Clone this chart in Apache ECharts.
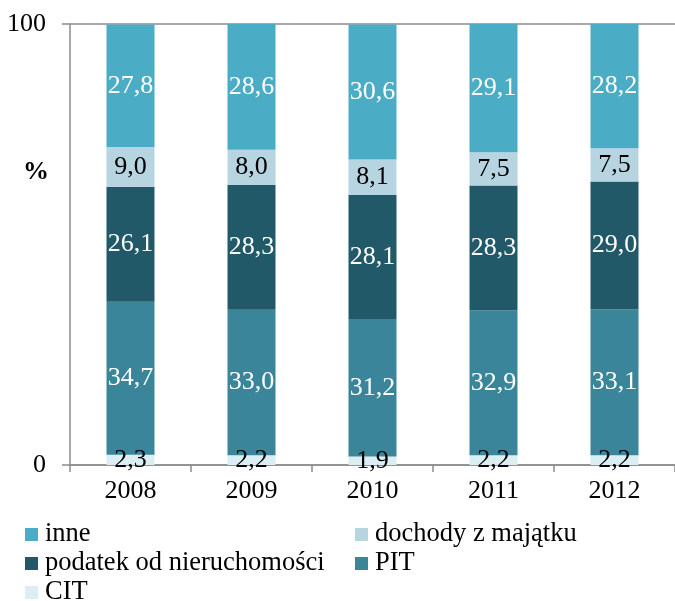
<!DOCTYPE html>
<html>
<head>
<meta charset="utf-8">
<script src="https://cdn.jsdelivr.net/npm/echarts@6/dist/echarts.min.js"></script>
<style>
  html, body { margin: 0; padding: 0; background: #fff; }
  #chart { width: 675px; height: 601px; }
</style>
</head>
<body>
<div id="chart"></div>
<script>
    var years = ['2008', '2009', '2010', '2011', '2012'];
    var cit = [2.3, 2.2, 1.9, 2.2, 2.2];
    var pit = [34.7, 33.0, 31.2, 32.9, 33.1];
    var podatek = [26.1, 28.3, 28.1, 28.3, 29.0];
    var dochody = [9.0, 8.0, 8.1, 7.5, 7.5];
    var inne = [27.8, 28.6, 30.6, 29.1, 28.2];
    var yTicks = [0, 100];

    var font = '"Liberation Serif", "DejaVu Serif", serif';

    function fmt(p) {
        return p.value.toFixed(1).replace('.', ',');
    }

    function bar(name, data, color, labelColor) {
        return {
            name: name,
            type: 'bar',
            stack: 'total',
            barWidth: 48,
            data: data,
            itemStyle: {color: color},
            label: {
                show: true,
                position: 'inside',
                formatter: fmt,
                color: labelColor,
                fontFamily: font,
                fontSize: 26
            }
        };
    }

    function legendAt(name, left, top) {
        return {
            data: [name],
            left: left,
            top: top,
            icon: 'rect',
            itemWidth: 13,
            itemHeight: 13,
            padding: 0,
            textStyle: {fontFamily: font, fontSize: 26.5, color: '#000', padding: [0, 0, 0, 2]}
        };
    }

    var myChart = echarts.init(document.getElementById('chart'));
    var option = {
        animation: false,
        textStyle: {fontFamily: font},
        grid: {left: 70, top: 24, width: 608, height: 441},
        legend: [
            legendAt('inne', 25, 521),
            legendAt('dochody z majątku', 355, 521),
            legendAt('podatek od nieruchomości', 25, 550),
            legendAt('PIT', 355, 550),
            legendAt('CIT', 25, 579)
        ],
        graphic: [{
            type: 'text',
            left: 23,
            top: 159,
            style: {text: '%', font: 'bold 26px ' + font, fill: '#000'}
        }],
        xAxis: {
            type: 'category',
            data: years,
            axisLine: {lineStyle: {color: '#8c8c8c', width: 1.5}},
            axisTick: {show: true, length: 7, lineStyle: {color: '#8c8c8c', width: 1.5}},
            axisLabel: {color: '#000', fontSize: 26, fontFamily: font, margin: 13}
        },
        yAxis: {
            type: 'value',
            min: yTicks[0],
            max: yTicks[1],
            interval: yTicks[1] - yTicks[0],
            axisLine: {show: true, lineStyle: {color: '#8c8c8c', width: 1.5}},
            axisTick: {show: true, length: 8, lineStyle: {color: '#8c8c8c', width: 1.5}},
            splitLine: {show: true, lineStyle: {color: '#8c8c8c', width: 1.5}},
            axisLabel: {color: '#000', fontSize: 26, fontFamily: font, margin: 24}
        },
        series: [
            bar('CIT', cit, '#daeef3', '#000'),
            bar('PIT', pit, '#3a8599', '#fff'),
            bar('podatek od nieruchomości', podatek, '#215968', '#fff'),
            bar('dochody z majątku', dochody, '#b7d5e0', '#000'),
            bar('inne', inne, '#4bacc6', '#fff')
        ]
    };
    myChart.setOption(option);
</script>
</body>
</html>
